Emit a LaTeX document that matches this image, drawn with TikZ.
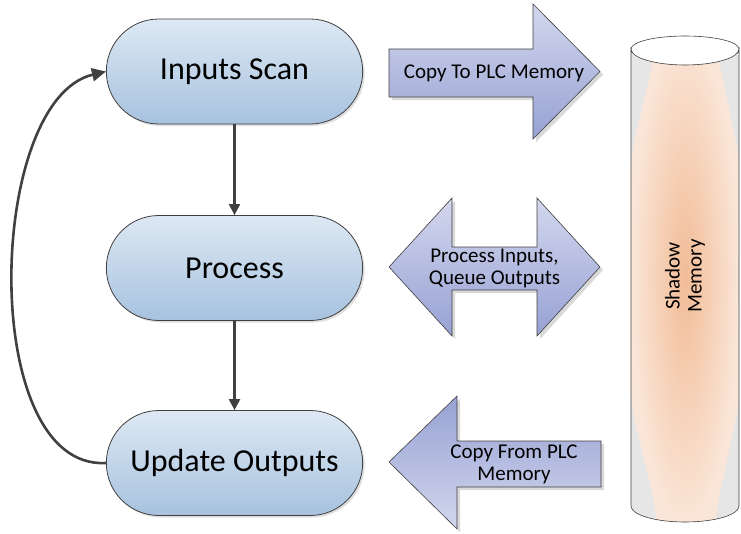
\documentclass[tikz,border=0pt]{standalone}
\usepackage{fontspec}
\setmainfont{Carlito}
\usetikzlibrary{shapes.misc,shadows,arrows.meta}
\definecolor{pilltop}{HTML}{DDE8F3}
\definecolor{pillbot}{HTML}{A7C2DF}
\definecolor{arrlight}{HTML}{D3D7EE}
\definecolor{arrdark}{HTML}{97A1D3}
\definecolor{linegray}{HTML}{404040}
\definecolor{cylgray}{HTML}{E6E6E6}
\definecolor{peachin}{HTML}{F2BC97}
\definecolor{peachout}{HTML}{FAE6D8}
\tikzset{
  pill/.style={rounded rectangle, draw=linegray, line width=0.8pt,
    minimum width=263pt, minimum height=105pt, top color=pilltop, bottom color=pillbot,
    font=\fontsize{32}{36}\selectfont,
    drop shadow={opacity=0.25, shadow xshift=2pt, shadow yshift=-2pt}},
  flowarrow/.style={draw=linegray, line width=2.2pt, -{Triangle[length=11pt,width=11pt]}},
  bigarrow/.style={draw=linegray, line width=0.6pt,
    drop shadow={opacity=0.3, shadow xshift=3pt, shadow yshift=-3pt}},
  arrtext/.style={font=\fontsize{21}{24}\selectfont, align=center, inner sep=0pt},
}
\begin{document}
\begin{tikzpicture}[x=1pt,y=-1pt]
\useasboundingbox (0,0) rectangle (741,533);

% process pills
\node[pill] (ins) at (234.5,71.5) {Inputs Scan};
\node[pill] (pro) at (234.5,268) {Process};
\node[pill] (upd) at (234.5,463) {Update Outputs};

\draw[flowarrow] (ins.south) -- (pro.north);
\draw[flowarrow] (pro.south) -- (upd.north);
\draw[draw=linegray, line width=2.6pt, -{Triangle[length=14pt,width=13pt]}]
  (upd.west) .. controls (-22,470) and (-14,100) .. (ins.west);

% right arrow
\path[bigarrow, top color=arrlight, bottom color=arrdark]
  (389,49) -- (533,49) -- (533,4) -- (600,71.5) -- (533,139) -- (533,97) -- (389,97) -- cycle;
\node[arrtext] (t1) at (494,73) {Copy To PLC Memory};

% double arrow
\path[bigarrow, top color=arrlight, bottom color=arrdark]
  (389,267) -- (452,198) -- (452,247) -- (537,247) -- (537,198) -- (600,267)
  -- (537,336) -- (537,290) -- (452,290) -- (452,336) -- cycle;
\node[arrtext] (t2) at (494.5,268.5) {Process Inputs,\\[-2pt]Queue Outputs};

% left arrow
\path[bigarrow, top color=arrdark, bottom color=arrlight]
  (389,462) -- (457,396) -- (457,441) -- (601,441) -- (601,487) -- (457,487) -- (457,529) -- cycle;
\node[arrtext] (t3) at (514,464) {Copy From PLC\\[-2pt]Memory};

% cylinder (shadow memory)
\begin{scope}
  \path[clip] (631,49) arc[start angle=180,end angle=360,x radius=54,y radius=-16]
    -- (739,506) arc[start angle=0,end angle=-180,x radius=54,y radius=-16] -- cycle;
  \fill[cylgray] (620,20) rectangle (745,530);
  \shade[inner color=peachin, outer color=peachout]
    (658,28) -- (714,28) .. controls (722,90) and (739,140) .. (739,170)
    -- (739,390) .. controls (739,420) and (722,470) .. (714,528)
    -- (658,528) .. controls (650,470) and (631,420) .. (631,390)
    -- (631,170) .. controls (631,140) and (650,90) .. (658,28) -- cycle;
\end{scope}
\draw[linegray, line width=0.6pt]
  (631,49) arc[start angle=180,end angle=360,x radius=54,y radius=-16]
  -- (739,506) arc[start angle=0,end angle=-180,x radius=54,y radius=-16] -- cycle;
\draw[linegray, line width=0.6pt]
  (631,49) arc[start angle=180,end angle=360,x radius=54,y radius=13];
\node[arrtext, rotate=90] (shm) at (685,276) {Shadow\\[-2pt]Memory};
\end{tikzpicture}
\end{document}
